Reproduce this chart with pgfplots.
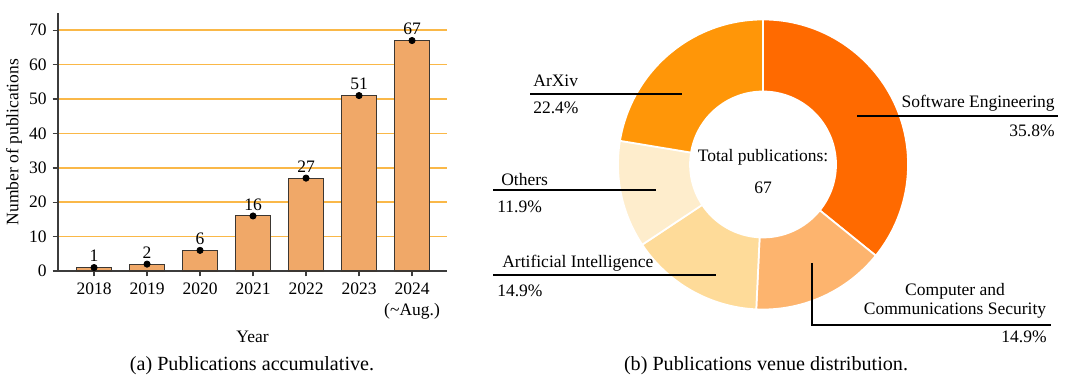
\documentclass[border=0pt]{standalone}
\usepackage{fontspec}
\setmainfont{Liberation Serif}
\usepackage{pgfplots}
\pgfplotsset{compat=1.18}
\definecolor{barfill}{RGB}{240,168,104}
\definecolor{baredge}{RGB}{60,55,50}
\definecolor{gridorange}{RGB}{250,184,72}
\definecolor{axisgray}{RGB}{60,60,60}
\definecolor{cSE}{RGB}{255,106,0}
\definecolor{cCCS}{RGB}{253,180,110}
\definecolor{cAI}{RGB}{254,219,153}
\definecolor{cOth}{RGB}{254,237,204}
\definecolor{cArx}{RGB}{255,150,8}
% venue counts (total 67)
\def\nSE{24}\def\nCCS{10}\def\nAI{10}\def\nOth{8}\def\nArx{15}
\pgfmathsetmacro{\aA}{90}
\pgfmathsetmacro{\aB}{\aA-\nSE*360/67}
\pgfmathsetmacro{\aC}{\aB-\nCCS*360/67}
\pgfmathsetmacro{\aD}{\aC-\nAI*360/67}
\pgfmathsetmacro{\aE}{\aD-\nOth*360/67}
\pgfmathsetmacro{\aF}{\aE-\nArx*360/67}
\def\Rout{82.86pt}
\def\Rin{41.71pt}
\newcommand\sector[3]{%
  \fill[#3, draw=white, line width=1pt] ([shift={(#1:\Rout)}]ctr) arc[start angle=#1, end angle=#2, radius=\Rout]
    -- ([shift={(#2:\Rin)}]ctr) arc[start angle=#2, end angle=#1, radius=\Rin] -- cycle;}
\newcommand\capfont{\fontsize{11.5}{13}\selectfont}
\begin{document}
\begin{tikzpicture}
\useasboundingbox (0,0) rectangle (609.14pt,224pt);
\begin{axis}[
  at={(33.14pt,69.14pt)}, anchor=south west, scale only axis,
  width=222.29pt, height=147.43pt,
  xmin=-0.68, xmax=6.66, ymin=0, ymax=75,
  axis lines=left,
  axis line style={draw=axisgray, line width=0.8pt, -},
  xtick={0,1,2,3,4,5,6},
  xticklabels={2018,2019,2020,2021,2022,2023,{2024\\(\textasciitilde Aug.)}},
  xticklabel style={align=center},
  ytick={0,10,20,30,40,50,60,70},
  ymajorgrids, grid style={gridorange, line width=1pt},
  tick align=outside, major tick length=3pt,
  tick style={axisgray, line width=0.8pt},
  /pgf/number format/assume math mode=true,
  xlabel={Year},
  xlabel style={at={(axis description cs:0.5,-0.256)}, anchor=center},
  ylabel={Number of publications},
  ylabel style={at={(axis description cs:-0.113,0.5)}, anchor=center},
  clip=false,
]
\addplot[ybar, bar width=0.66, fill=barfill, draw=baredge, line width=0.6pt]
  coordinates {(0,1) (1,2) (2,6) (3,16) (4,27) (5,51) (6,67)};
\addplot[only marks, mark=*, mark size=1.8pt, black,
  nodes near coords, nodes near coords style={anchor=south, font=\normalsize, inner sep=2pt, yshift=1pt},
  point meta=explicit symbolic]
  coordinates {(0,1)[1] (1,2)[2] (2,6)[6] (3,16)[16] (4,27)[27] (5,51)[51] (6,67)[67]};
\end{axis}
\begin{axis}[
  at={(262.86pt,0pt)}, anchor=south west, scale only axis,
  width=346.29pt, height=224pt,
  xmin=460, xmax=1066, ymin=0, ymax=392,
  hide axis, clip=false,
]
\coordinate (ctr) at (axis cs:763,227.5);
\sector{\aA}{\aB}{cSE}
\sector{\aB}{\aC}{cCCS}
\sector{\aC}{\aD}{cAI}
\sector{\aD}{\aE}{cOth}
\sector{\aE}{\aF}{cArx}
\addplot[black, line width=0.7pt] coordinates {(530,298) (682,298)};
\addplot[black, line width=0.7pt] coordinates {(493,202) (656,202)};
\addplot[black, line width=0.7pt] coordinates {(493,117) (716,117)};
\addplot[black, line width=0.7pt] coordinates {(857,276) (1058,276)};
\addplot[black, line width=0.7pt] coordinates {(812,129) (812,67) (1051,67)};
\node[anchor=west, inner sep=0pt] at (axis cs:533,311) {ArXiv};
\node[anchor=west, inner sep=0pt] at (axis cs:533,284) {22.4\%};
\node[anchor=west, inner sep=0pt] at (axis cs:501,212) {Others};
\node[anchor=west, inner sep=0pt] at (axis cs:497,185) {11.9\%};
\node[anchor=west, inner sep=0pt] at (axis cs:502,129) {Artificial Intelligence};
\node[anchor=west, inner sep=0pt] at (axis cs:497,101) {14.9\%};
\node[anchor=east, inner sep=0pt] at (axis cs:1055,289) {Software Engineering};
\node[anchor=east, inner sep=0pt] at (axis cs:1055,261) {35.8\%};
\node[inner sep=0pt] at (axis cs:955,101) {Computer and};
\node[inner sep=0pt] at (axis cs:955,81) {Communications Security};
\node[anchor=east, inner sep=0pt] at (axis cs:1047,55) {14.9\%};
\node[inner sep=0pt] at (axis cs:763,235) {Total publications:};
\node[inner sep=0pt] at (axis cs:763,204) {67};
\node[inner sep=0pt, font=\capfont] at (axis cs:766,26) {(b) Publications venue distribution.};
\node[inner sep=0pt, font=\capfont] at (axis cs:252,26) {(a) Publications accumulative.};
\end{axis}
\end{tikzpicture}
\end{document}
